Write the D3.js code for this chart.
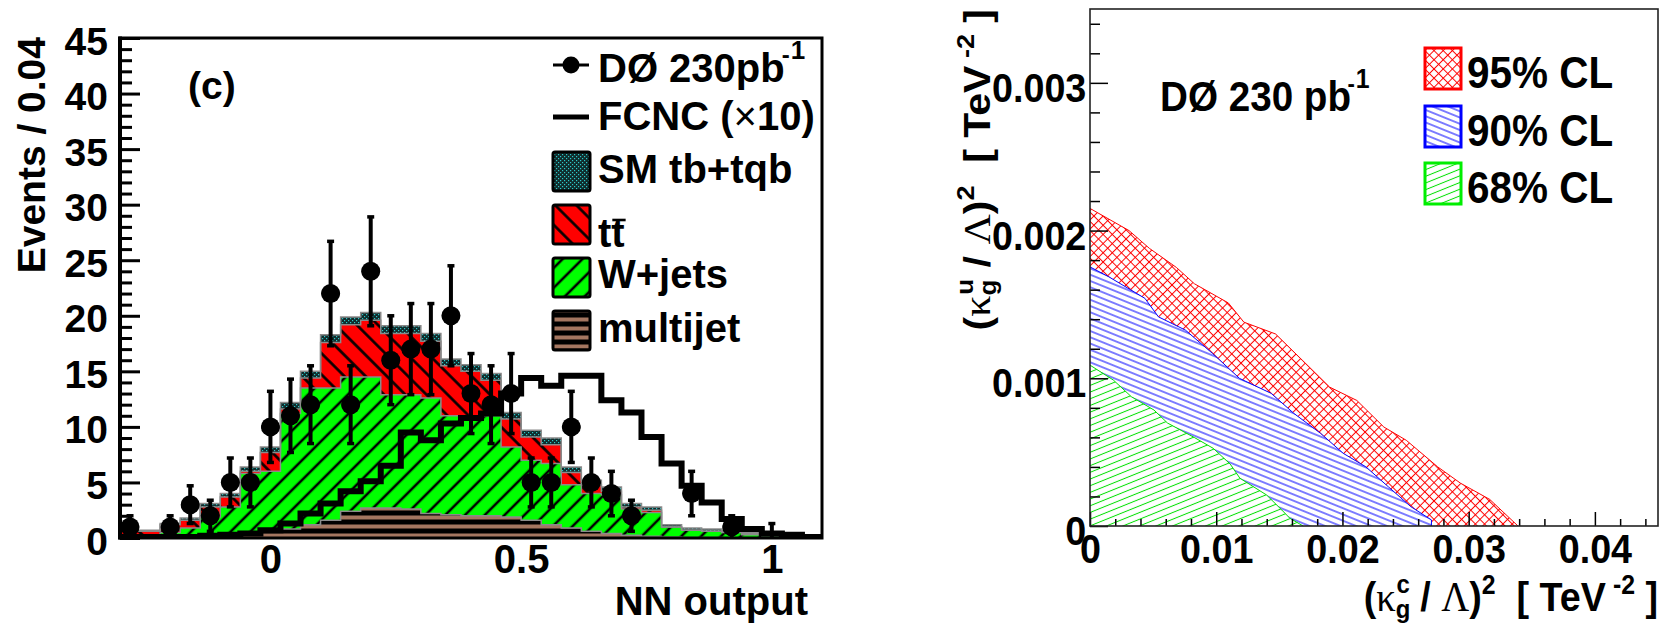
<!DOCTYPE html>
<html><head><meta charset="utf-8">
<script src="https://cdn.jsdelivr.net/npm/d3@7"></script>
<style>
body{margin:0;background:#fff}
svg{display:block}
text{font-family:"Liberation Sans",Arial,Helvetica,sans-serif;font-weight:bold;fill:#000}
</style>
</head><body>
<svg id="c" width="1669" height="625"></svg>
<script>
// ---------------- LEFT PANEL DATA (NN output histogram) ----------------
const nnBins = [-0.28,-0.24,-0.20,-0.16,-0.12,-0.08,-0.04,0.00,0.04,0.08,0.12,0.16,0.20,0.24,0.28,0.32,0.36,0.40,0.44,0.48,0.52,0.56,0.60,0.64,0.68,0.72,0.76,0.80,0.84,0.88,0.92,0.96,1.00,1.04,1.08];
const binWidth = 0.04;
const dataCounts = [1,0,1,3,2,5,5,10,11,12,22,12,24,16,17,17,20,13,12,13,5,5,10,5,4,2,0,0,4,0,1,0,0,0,0];
const dataErr    = [1,0,1,1.7,1.4,2.2,2.2,3.2,3.3,3.5,4.7,3.5,4.9,4,4.1,4.1,4.5,3.6,3.5,3.6,2.2,2.2,3.2,2.2,2,1.4,0,0,2,0,1,0,1.3,0,0];
const fcncX10    = [0.1,0.1,0.1,0.1,0.2,0.3,0.4,0.7,1.3,2.2,3.1,4.2,5.1,6.5,9.5,8.8,10.3,10.8,11.2,13.0,14.4,13.7,14.6,14.6,12.4,11.3,9.1,6.7,4.7,3.2,1.7,0.8,0.4,0.3,0.1];
const multijet   = [0,0,0,0,0.1,0.2,0.3,0.6,0.8,1.2,1.6,2.4,2.7,2.7,2.6,2.2,2.1,2.0,2.0,1.9,1.6,1.2,0.9,0.6,0.4,0.25,0.15,0.1,0.05,0.05,0,0,0,0,0];
const wJets      = [0.3,0.3,0.5,0.9,1.8,2.6,5.5,5.4,10.4,12.3,11.9,12.1,11.8,10.2,10.3,10.4,8.9,9.0,9.0,6.3,5.4,5.5,3.9,3.4,3.5,2.35,2.15,0.9,0.65,0.55,0.5,0.3,0.2,0.1,0.05];
const ttbar      = [0.3,0.3,0.7,0.7,0.9,0.9,0.2,1.7,0.4,0.9,4.1,4.7,5.1,5.5,5.5,5.1,4.5,4.0,3.2,2.5,2.1,1.7,1.1,0.8,0.3,0.2,0.2,0,0,0,0.1,0.1,0,0,0];
const smTbTqb    = [0.1,0.1,0.1,0.2,0.3,0.3,0.4,0.5,0.6,0.6,0.7,0.7,0.7,0.7,0.7,0.7,0.6,0.6,0.6,0.6,0.6,0.6,0.5,0.4,0.4,0.3,0.3,0.2,0.2,0.2,0.1,0.1,0.1,0.05,0.05];
const yTicksL = [0,5,10,15,20,25,30,35,40,45];
const xTicksL = [0,0.5,1];
const legendL = ["DØ 230pb","FCNC (","SM tb+tqb","tt","W+jets","multijet"];

// ---------------- RIGHT PANEL DATA (exclusion contours) ----------------
const cl95_kc = [0,0.00309,0.00470,0.00685,0.00827,0.01096,0.01219,0.01470,0.01685,0.01899,0.02114,0.02328,0.02506,0.02755,0.02935,0.03167,0.03391];
const cl95_ku = [0.00215,0.00200,0.00188,0.00175,0.00164,0.00151,0.00138,0.00130,0.00112,0.00094,0.00085,0.00067,0.00058,0.00040,0.00029,0.00018,0];
const cl90_kc = [0,0.00149,0.00435,0.00542,0.00756,0.00971,0.01185,0.01435,0.01614,0.01827,0.02006,0.02185,0.02363,0.02542,0.02705,0.02705];
const cl90_ku = [0.001754,0.001687,0.001541,0.001416,0.001326,0.001168,0.000999,0.000898,0.000763,0.000627,0.000492,0.000401,0.000266,0.000131,0.000041,0];
const cl68_kc = [0,0.00185,0.00328,0.00507,0.00614,0.00827,0.00976,0.01111,0.01188,0.01399,0.01520,0.01584,0.01689];
const cl68_ku = [0.001089,0.000988,0.000875,0.000785,0.000697,0.000599,0.000526,0.000419,0.000323,0.000210,0.000108,0.000052,0];
const xTicksR = [0,0.01,0.02,0.03,0.04];
const yTicksR = [0,0.001,0.002,0.003];
const legendR = ["95% CL","90% CL","68% CL"];

// ---------------- SETUP ----------------
const svg = d3.select("#c");
const defs = svg.append("defs");
const SX = 0.92; // horizontal squeeze of the right panel texts

function hatch(id, spacing, angle, bg, color, width){
  const p = defs.append("pattern").attr("id",id).attr("patternUnits","userSpaceOnUse")
    .attr("width",spacing).attr("height",spacing).attr("patternTransform",`rotate(${angle})`);
  if(bg) p.append("rect").attr("width",spacing).attr("height",spacing).attr("fill",bg);
  p.append("line").attr("x1",spacing/2).attr("x2",spacing/2).attr("y1",-1).attr("y2",spacing+1)
    .attr("stroke",color).attr("stroke-width",width);
}
hatch("pTT", 15, -45, "#ff0000", "#000", 2.6);
hatch("pWJ", 14, 45, "#00ff00", "#000", 2.6);
hatch("p90", 5.8, -68, "#fff", "#0000ff", 1);
hatch("p68", 6.2, 68, "#fff", "#00e000", 1);
{
  const p = defs.append("pattern").attr("id","p95").attr("patternUnits","userSpaceOnUse")
    .attr("width",6.5).attr("height",6.5).attr("patternTransform","rotate(45)");
  p.append("rect").attr("width",6.5).attr("height",6.5).attr("fill","#fff");
  p.append("line").attr("x1",3.25).attr("x2",3.25).attr("y1",-1).attr("y2",7.5).attr("stroke","#ff0000").attr("stroke-width",1);
  p.append("line").attr("y1",3.25).attr("y2",3.25).attr("x1",-1).attr("x2",7.5).attr("stroke","#ff0000").attr("stroke-width",1);
  const s = defs.append("pattern").attr("id","pSM").attr("patternUnits","userSpaceOnUse").attr("width",4).attr("height",4);
  s.append("rect").attr("width",4).attr("height",4).attr("fill","#0f2c2c");
  s.append("rect").attr("x",0).attr("y",0).attr("width",1.2).attr("height",1.2).attr("fill","#2cc8c8");
  s.append("rect").attr("x",2).attr("y",2).attr("width",1.2).attr("height",1.2).attr("fill","#2cc8c8");
  const m = defs.append("pattern").attr("id","pMJ").attr("patternUnits","userSpaceOnUse").attr("width",10).attr("height",9);
  m.append("rect").attr("width",10).attr("height",9).attr("fill","#000");
  m.append("rect").attr("y",2.5).attr("width",10).attr("height",4).attr("fill","#a47660");
}

// ================= LEFT PANEL =================
const xL = d3.scaleLinear().domain([-0.3,1.1]).range([120,822]);
const yL = d3.scaleLinear().domain([0,45]).range([538,38]);

defs.append("clipPath").attr("id","clipL").append("rect")
  .attr("x",120).attr("y",38).attr("width",702).attr("height",500);

const rows = nnBins.map((c,i)=>({c, multijet:multijet[i], wjets:wJets[i], ttbar:ttbar[i], sm:smTbTqb[i]}));
const keys = ["multijet","wjets","ttbar","sm"];
const fills = {multijet:"url(#pMJ)", wjets:"url(#pWJ)", ttbar:"url(#pTT)", sm:"url(#pSM)"};
const series = d3.stack().keys(keys)(rows);

function toSteps(s){
  const pts = s.map(d=>({x:d.data.c-binWidth/2, y0:d[0], y1:d[1]}));
  const last = s[s.length-1];
  pts.push({x:last.data.c+binWidth/2, y0:last[0], y1:last[1]});
  return pts;
}
const stepArea = d3.area().curve(d3.curveStepAfter).x(d=>xL(d.x)).y0(d=>yL(d.y0)).y1(d=>yL(d.y1));
const stepTop = d3.line().curve(d3.curveStepAfter).x(d=>xL(d.x)).y(d=>yL(d.y1));

const gL = svg.append("g").attr("clip-path","url(#clipL)");
series.forEach(s=>{
  gL.append("path").attr("d",stepArea(toSteps(s))).attr("fill",fills[s.key]).attr("stroke","none");
});
series.forEach(s=>{
  gL.append("path").attr("d",stepTop(toSteps(s))).attr("fill","none").attr("stroke","#8a8a8a").attr("stroke-width",1.5);
});

// FCNC x10 line
const fcPts = nnBins.map((c,i)=>({x:c-binWidth/2, y1:fcncX10[i]}));
fcPts.push({x:nnBins[nnBins.length-1]+binWidth/2, y1:fcncX10[fcncX10.length-1]});
gL.append("path").attr("d",stepTop(fcPts)).attr("fill","none").attr("stroke","#000")
  .attr("stroke-width",6).attr("stroke-linejoin","miter");

// data points
const gD = svg.append("g");
nnBins.forEach((c,i)=>{
  const v = dataCounts[i], e = dataErr[i];
  const cx = xL(c);
  if(e>0){
    const lo = Math.max(0,v-e), hi = v+e;
    gD.append("line").attr("x1",cx).attr("x2",cx).attr("y1",yL(lo)).attr("y2",yL(hi)).attr("stroke","#000").attr("stroke-width",4);
    gD.append("line").attr("x1",cx-3.5).attr("x2",cx+3.5).attr("y1",yL(hi)).attr("y2",yL(hi)).attr("stroke","#000").attr("stroke-width",3.5);
    if(lo>0) gD.append("line").attr("x1",cx-3.5).attr("x2",cx+3.5).attr("y1",yL(lo)).attr("y2",yL(lo)).attr("stroke","#000").attr("stroke-width",3.5);
  }
  if(v>0){
    gD.append("line").attr("x1",xL(c-binWidth/2)+1).attr("x2",xL(c+binWidth/2)-1).attr("y1",yL(v)).attr("y2",yL(v)).attr("stroke","#000").attr("stroke-width",4);
    gD.append("circle").attr("cx",cx).attr("cy",yL(v)).attr("r",9.5).attr("fill","#000");
  }
});

// axes left
const axYL = svg.append("g").attr("transform","translate(120,0)")
  .call(d3.axisLeft(yL).tickValues(yTicksL).tickSizeInner(-20).tickSizeOuter(0).tickPadding(12));
axYL.select(".domain").remove();
axYL.selectAll("line").attr("stroke","#000").attr("stroke-width",3);
axYL.selectAll("text").attr("font-size",39).attr("font-family","Liberation Sans").attr("dy","0.41em");
const axYLm = svg.append("g").attr("transform","translate(120,0)")
  .call(d3.axisLeft(yL).tickValues(d3.range(0,46,1).filter(v=>v%5!==0)).tickSizeInner(-12).tickSizeOuter(0).tickFormat(""));
axYLm.select(".domain").remove();
axYLm.selectAll("line").attr("stroke","#000").attr("stroke-width",3);

const axXL = svg.append("g").attr("transform","translate(0,538)")
  .call(d3.axisBottom(xL).tickValues(xTicksL).tickSize(0).tickPadding(7).tickFormat(d3.format("~g")));
axXL.select(".domain").remove();
axXL.selectAll("text").attr("font-size",40).attr("font-family","Liberation Sans");

// frame left
svg.append("rect").attr("x",120).attr("y",38).attr("width",702).attr("height",500)
  .attr("fill","none").attr("stroke","#000").attr("stroke-width",3);
svg.append("line").attr("x1",120).attr("x2",120).attr("y1",36.5).attr("y2",539.5).attr("stroke","#000").attr("stroke-width",4);

// titles left
svg.append("text").attr("transform","translate(45,37) rotate(-90)").attr("text-anchor","end")
  .attr("font-size",39).text("Events / 0.04");
svg.append("text").attr("x",808).attr("y",615).attr("text-anchor","end").attr("font-size",40).text("NN output");
svg.append("text").attr("x",188).attr("y",99).attr("font-size",39).text("(c)");

// legend left
const LX = 598;
{
  svg.append("line").attr("x1",553).attr("x2",589).attr("y1",65).attr("y2",65).attr("stroke","#000").attr("stroke-width",3);
  svg.append("circle").attr("cx",571).attr("cy",65).attr("r",8.5).attr("fill","#000");
  const t = svg.append("text").attr("x",LX).attr("y",82).attr("font-size",40);
  t.append("tspan").text(legendL[0]);
  t.append("tspan").attr("dx",-3).attr("dy",-19).attr("font-size",24).text("-");
  t.append("tspan").attr("dx",1).attr("dy",-4).attr("font-size",26).text("1");

  svg.append("line").attr("x1",553).attr("x2",589).attr("y1",117).attr("y2",117).attr("stroke","#000").attr("stroke-width",5);
  const t2 = svg.append("text").attr("x",LX).attr("y",130).attr("font-size",40);
  t2.append("tspan").text(legendL[1]);
  t2.append("tspan").attr("font-weight","normal").text("×");
  t2.append("tspan").text("10)");

  const boxes = [["pSM",152,legendL[2],183],["pTT",205,legendL[3],247],["pWJ",258,legendL[4],288],["pMJ",311,legendL[5],342]];
  boxes.forEach(([pid,y,label,base])=>{
    svg.append("rect").attr("x",553).attr("y",y).attr("width",37).attr("height",39).attr("rx",2)
      .attr("fill",`url(#${pid})`).attr("stroke","#000").attr("stroke-width",3);
    const tt = svg.append("text").attr("x",LX).attr("y",base).attr("font-size",40).text(label);
    if(pid==="pTT"){
      const n = tt.node();
      const a = n.getSubStringLength(0,1), b = n.getSubStringLength(0,2);
      svg.append("line").attr("x1",LX+a+1).attr("x2",LX+b+1).attr("y1",base-27).attr("y2",base-27)
        .attr("stroke","#000").attr("stroke-width",2.6);
    }
  });
}

// ================= RIGHT PANEL =================
const xR = d3.scaleLinear().domain([0,0.045]).range([1090,1658]);
const yR = d3.scaleLinear().domain([0,0.0035]).range([526,9]);
const contourLine = d3.line().x(d=>xR(d[0])).y(d=>yR(d[1]));
function region(kc,ku){ return [[0,0]].concat(kc.map((v,i)=>[v,ku[i]])); }
const gR = svg.append("g");
[[cl95_kc,cl95_ku,"url(#p95)","#ff0000"],[cl90_kc,cl90_ku,"url(#p90)","#0000ff"],[cl68_kc,cl68_ku,"url(#p68)","#00e000"]]
  .forEach(([kc,ku,f,c])=>{
    gR.append("path").attr("d",contourLine(region(kc,ku))+"Z").attr("fill",f).attr("stroke","none");
    gR.append("path").attr("d",contourLine(kc.map((v,i)=>[v,ku[i]]))).attr("fill","none").attr("stroke",c).attr("stroke-width",1);
  });

// right axes
const fmtX = d=> d===0?"0":d3.format(".2f")(d);
const fmtY = d=> d===0?"0":d3.format(".3f")(d);
const axXR = svg.append("g").attr("transform","translate(0,526)")
  .call(d3.axisBottom(xR).tickValues(xTicksR).tickSizeInner(-14).tickSizeOuter(0).tickPadding(8).tickFormat(fmtX));
axXR.select(".domain").remove();
axXR.selectAll("line").attr("stroke","#000").attr("stroke-width",1.5);
axXR.selectAll("text").attr("font-size",41).attr("font-family","Liberation Sans").attr("transform",`scale(${SX},1)`);
const axXRm = svg.append("g").attr("transform","translate(0,526)")
  .call(d3.axisBottom(xR).tickValues(d3.range(0.002,0.0449,0.002).filter(v=>Math.abs(v*100-Math.round(v*100))>1e-6)).tickSizeInner(-7).tickSizeOuter(0).tickFormat(""));
axXRm.select(".domain").remove();
axXRm.selectAll("line").attr("stroke","#000").attr("stroke-width",1.5);

const axYR = svg.append("g").attr("transform","translate(1090,0)")
  .call(d3.axisLeft(yR).tickValues(yTicksR).tickSizeInner(-18).tickSizeOuter(0).tickPadding(4).tickFormat(fmtY));
axYR.select(".domain").remove();
axYR.selectAll("line").attr("stroke","#000").attr("stroke-width",1.5);
axYR.selectAll("text").attr("font-size",41).attr("font-family","Liberation Sans").attr("dy","0.45em").attr("transform",`scale(${SX},1)`);
const axYRm = svg.append("g").attr("transform","translate(1090,0)")
  .call(d3.axisLeft(yR).tickValues(d3.range(0.0002,0.00345,0.0002).filter(v=>Math.abs(v*1000-Math.round(v*1000))>1e-6)).tickSizeInner(-10).tickSizeOuter(0).tickFormat(""));
axYRm.select(".domain").remove();
axYRm.selectAll("line").attr("stroke","#000").attr("stroke-width",1.5);

svg.append("rect").attr("x",1090).attr("y",9).attr("width",568).attr("height",517)
  .attr("fill","none").attr("stroke","#222").attr("stroke-width",1.6);

// right texts (squeezed)
function sq(x,y,extra){ return svg.append("g").attr("transform",`translate(${x},${y}) scale(${SX},1)${extra||""}`); }
{
  const t = sq(1160,111).append("text").attr("font-size",42);
  t.append("tspan").text("DØ 230 pb");
  t.append("tspan").attr("dx",-4).attr("dy",-19).attr("font-size",24).text("-");
  t.append("tspan").attr("dx",1).attr("dy",-4).attr("font-size",27).text("1");
}
const legR = [["url(#p95)","#ff0000",48,88],["url(#p90)","#0000ff",106,146],["url(#p68)","#00ee00",163,203]];
legR.forEach(([f,c,y,base],i)=>{
  svg.append("rect").attr("x",1425).attr("y",y).attr("width",36).attr("height",41)
    .attr("fill",f).attr("stroke",c).attr("stroke-width",3);
  sq(1467,base).append("text").attr("font-size",44).text(legendR[i]);
});

function kappaTitle(t, sup){
  t.append("tspan").text("(");
  t.append("tspan").attr("font-family","Liberation Serif").attr("font-weight","normal").attr("font-size",42).text("κ");
  t.append("tspan").attr("font-size",26).attr("dy",7).text("g");
  t.append("tspan").attr("font-size",26).attr("dx",-15).attr("dy",-25).text(sup);
  t.append("tspan").attr("dy",18).text("\u00a0/\u00a0");
  t.append("tspan").attr("font-family","Liberation Serif").attr("font-weight","normal").attr("font-size",42).text("Λ");
  t.append("tspan").text(")");
  t.append("tspan").attr("font-size",27).attr("dy",-17).text("2");
  t.append("tspan").attr("dy",17).text("\u00a0\u00a0[\u00a0TeV");
  t.append("tspan").attr("font-size",27).attr("dy",-17).text("\u00a0-2");
  t.append("tspan").attr("dy",17).text("\u00a0]");
}
kappaTitle(sq(1658,611).append("text").attr("font-size",41).attr("text-anchor","end"), "c");
kappaTitle(sq(990,9," rotate(-90)").append("text").attr("font-size",41).attr("text-anchor","end"), "u");
</script>
</body></html>
